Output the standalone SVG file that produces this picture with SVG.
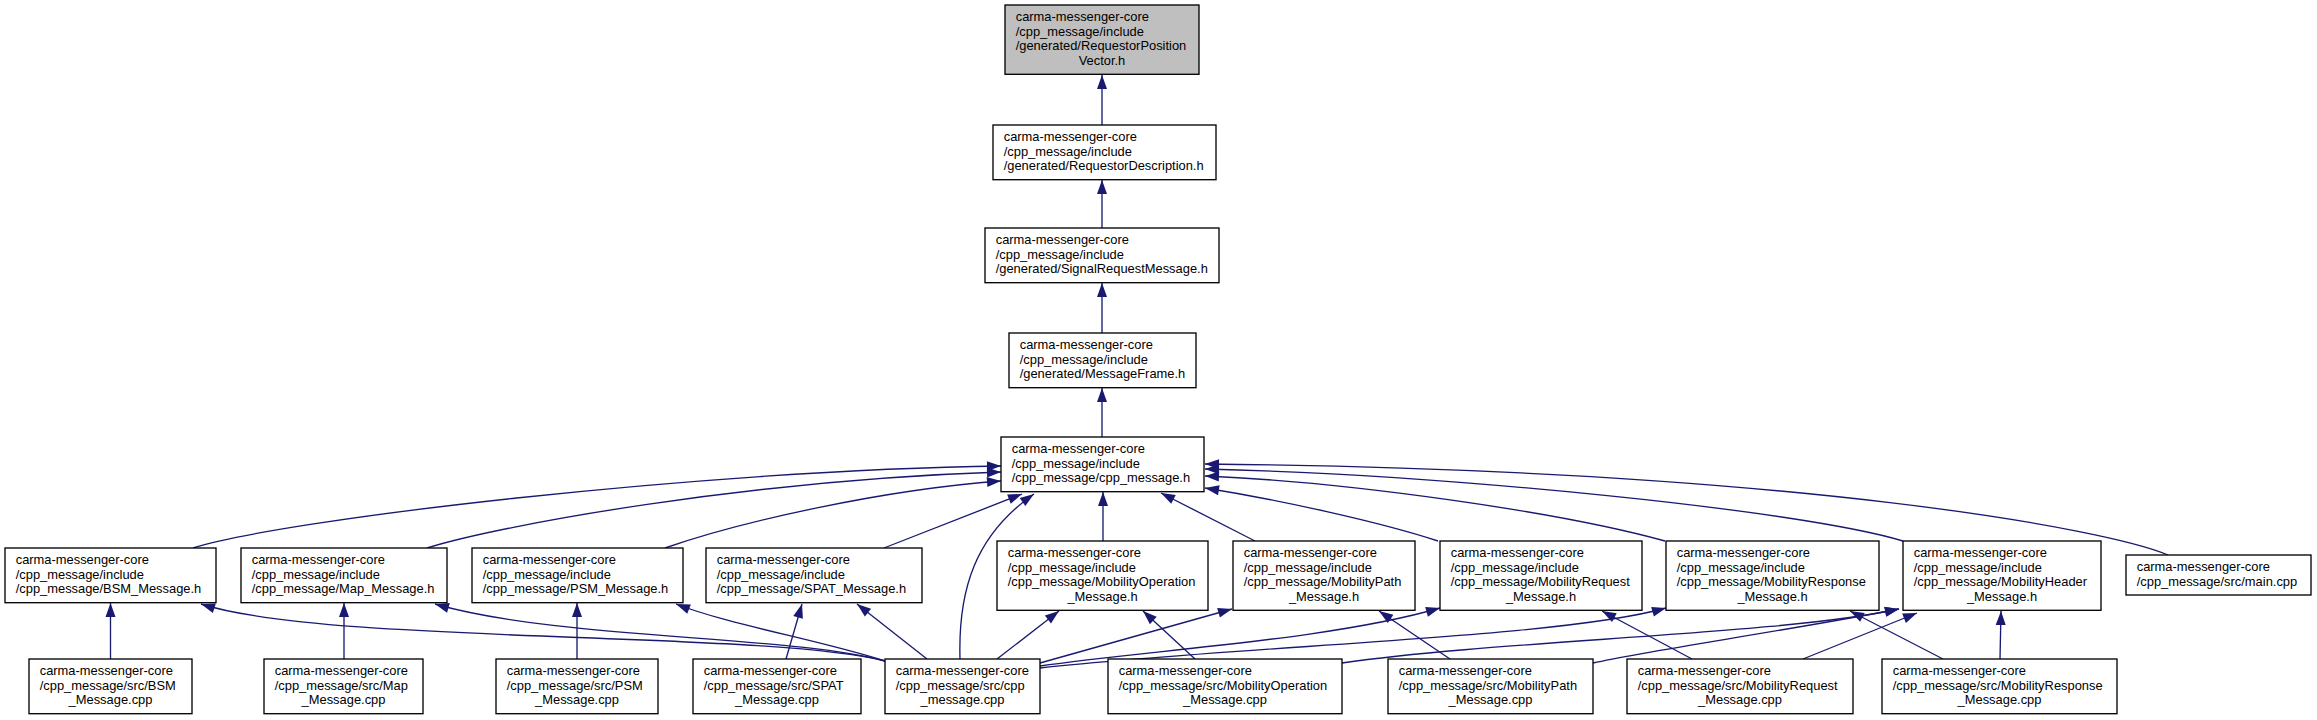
<svg xmlns="http://www.w3.org/2000/svg" width="2317" height="720" viewBox="0 0 2317 720">
<style>
.node rect{fill:#fff;stroke:#000;stroke-width:1.33}
.node text{font-family:"Liberation Sans",Arial,Helvetica,sans-serif;font-size:12.9px;fill:#000}
.node text.c{text-anchor:middle}
.edge{fill:none;stroke:#191970;stroke-width:1.33}
</style>
<defs>
<marker id="ah" markerUnits="userSpaceOnUse" viewBox="0 0 14 10" refX="14" refY="5" markerWidth="14" markerHeight="10" orient="auto" overflow="visible">
<path d="M0,0 L14,5 L0,10 Z" fill="#191970"/>
</marker>
</defs>
<rect width="2317" height="720" fill="#fff"/>
<g id="edges">
<path class="edge" marker-end="url(#ah)" d="M1102,125 L1102,75"/>
<path class="edge" marker-end="url(#ah)" d="M1102,228 L1102,180"/>
<path class="edge" marker-end="url(#ah)" d="M1102,333 L1102,283"/>
<path class="edge" marker-end="url(#ah)" d="M1102,437 L1102,388"/>
<path class="edge" marker-end="url(#ah)" d="M193,548 C280,520 700,470 1001,466"/>
<path class="edge" marker-end="url(#ah)" d="M427,548 C500,525 750,480 1001,472"/>
<path class="edge" marker-end="url(#ah)" d="M665,548 C740,522 880,490 1001,481"/>
<path class="edge" marker-end="url(#ah)" d="M884,548 L1022,494"/>
<path class="edge" marker-end="url(#ah)" d="M960,659 C958,590 975,535 1034,494"/>
<path class="edge" marker-end="url(#ah)" d="M1103,541 L1103,492"/>
<path class="edge" marker-end="url(#ah)" d="M1255,541 L1161,493"/>
<path class="edge" marker-end="url(#ah)" d="M1438,541 C1380,522 1280,500 1205,488"/>
<path class="edge" marker-end="url(#ah)" d="M1665,541 C1560,512 1350,482 1205,476"/>
<path class="edge" marker-end="url(#ah)" d="M1903,541 C1800,510 1450,475 1205,469"/>
<path class="edge" marker-end="url(#ah)" d="M2168,555 C2110,530 1800,470 1205,464"/>
<path class="edge" marker-end="url(#ah)" d="M110.5,659 L110.5,603"/>
<path class="edge" marker-end="url(#ah)" d="M344,659 L344,603"/>
<path class="edge" marker-end="url(#ah)" d="M577,659 L577,603"/>
<path class="edge" marker-end="url(#ah)" d="M786,659 L802,604"/>
<path class="edge" marker-end="url(#ah)" d="M885,661 C760,630 330,645 201,604"/>
<path class="edge" marker-end="url(#ah)" d="M885,661 C790,635 560,640 435,604"/>
<path class="edge" marker-end="url(#ah)" d="M885,661 C820,640 730,625 676,604"/>
<path class="edge" marker-end="url(#ah)" d="M927,659 L857,604"/>
<path class="edge" marker-end="url(#ah)" d="M997,659 L1059,611"/>
<path class="edge" marker-end="url(#ah)" d="M1195,659 L1143,611"/>
<path class="edge" marker-end="url(#ah)" d="M1040,663 L1232,609"/>
<path class="edge" marker-end="url(#ah)" d="M1450,659 L1379,611"/>
<path class="edge" marker-end="url(#ah)" d="M1040,666 C1150,650 1330,640 1440,608"/>
<path class="edge" marker-end="url(#ah)" d="M1692,659 L1602,611"/>
<path class="edge" marker-end="url(#ah)" d="M1040,668 C1250,645 1560,638 1666,608"/>
<path class="edge" marker-end="url(#ah)" d="M1943,659 L1850,611"/>
<path class="edge" marker-end="url(#ah)" d="M2000,659 L2001,611"/>
<path class="edge" marker-end="url(#ah)" d="M1803,659 L1917,613"/>
<path class="edge" marker-end="url(#ah)" d="M1593,663 C1650,650 1780,632 1899,609"/>
<path class="edge" marker-end="url(#ah)" d="M1342,663 C1500,640 1780,635 1899,609"/>
</g>
<g id="n1" class="node"><rect x="1005" y="5" width="194" height="69.3" style="fill:#bfbfbf"/>
<text x="1015.7" y="21">carma-messenger-core</text><text x="1015.7" y="35.7">/cpp_message/include</text><text x="1015.7" y="50.3">/generated/RequestorPosition</text><text class="c" x="1102" y="65">Vector.h</text></g>
<g id="n2" class="node"><rect x="993" y="125" width="223" height="54.7"/>
<text x="1003.7" y="141">carma-messenger-core</text><text x="1003.7" y="155.7">/cpp_message/include</text><text x="1003.7" y="170.3">/generated/RequestorDescription.h</text></g>
<g id="n3" class="node"><rect x="985" y="228" width="234" height="54.7"/>
<text x="995.7" y="244">carma-messenger-core</text><text x="995.7" y="258.7">/cpp_message/include</text><text x="995.7" y="273.3">/generated/SignalRequestMessage.h</text></g>
<g id="n4" class="node"><rect x="1009" y="333" width="187" height="54.7"/>
<text x="1019.7" y="349">carma-messenger-core</text><text x="1019.7" y="363.7">/cpp_message/include</text><text x="1019.7" y="378.3">/generated/MessageFrame.h</text></g>
<g id="n5" class="node"><rect x="1001" y="437" width="203" height="54.7"/>
<text x="1011.7" y="453">carma-messenger-core</text><text x="1011.7" y="467.7">/cpp_message/include</text><text x="1011.7" y="482.3">/cpp_message/cpp_message.h</text></g>
<g id="bsm_h" class="node"><rect x="5" y="548" width="211" height="54.7"/>
<text x="15.7" y="564">carma-messenger-core</text><text x="15.7" y="578.7">/cpp_message/include</text><text x="15.7" y="593.3">/cpp_message/BSM_Message.h</text></g>
<g id="map_h" class="node"><rect x="241" y="548" width="206" height="54.7"/>
<text x="251.7" y="564">carma-messenger-core</text><text x="251.7" y="578.7">/cpp_message/include</text><text x="251.7" y="593.3">/cpp_message/Map_Message.h</text></g>
<g id="psm_h" class="node"><rect x="472" y="548" width="211" height="54.7"/>
<text x="482.7" y="564">carma-messenger-core</text><text x="482.7" y="578.7">/cpp_message/include</text><text x="482.7" y="593.3">/cpp_message/PSM_Message.h</text></g>
<g id="spat_h" class="node"><rect x="706" y="548" width="216" height="54.7"/>
<text x="716.7" y="564">carma-messenger-core</text><text x="716.7" y="578.7">/cpp_message/include</text><text x="716.7" y="593.3">/cpp_message/SPAT_Message.h</text></g>
<g id="mobop_h" class="node"><rect x="997" y="541" width="211" height="69.3"/>
<text x="1007.7" y="557">carma-messenger-core</text><text x="1007.7" y="571.7">/cpp_message/include</text><text x="1007.7" y="586.3">/cpp_message/MobilityOperation</text><text class="c" x="1102.5" y="601">_Message.h</text></g>
<g id="mobpath_h" class="node"><rect x="1233" y="541" width="182" height="69.3"/>
<text x="1243.7" y="557">carma-messenger-core</text><text x="1243.7" y="571.7">/cpp_message/include</text><text x="1243.7" y="586.3">/cpp_message/MobilityPath</text><text class="c" x="1324" y="601">_Message.h</text></g>
<g id="mobreq_h" class="node"><rect x="1440" y="541" width="202" height="69.3"/>
<text x="1450.7" y="557">carma-messenger-core</text><text x="1450.7" y="571.7">/cpp_message/include</text><text x="1450.7" y="586.3">/cpp_message/MobilityRequest</text><text class="c" x="1541" y="601">_Message.h</text></g>
<g id="mobresp_h" class="node"><rect x="1666" y="541" width="213" height="69.3"/>
<text x="1676.7" y="557">carma-messenger-core</text><text x="1676.7" y="571.7">/cpp_message/include</text><text x="1676.7" y="586.3">/cpp_message/MobilityResponse</text><text class="c" x="1772.5" y="601">_Message.h</text></g>
<g id="mobhdr_h" class="node"><rect x="1903" y="541" width="198" height="69.3"/>
<text x="1913.7" y="557">carma-messenger-core</text><text x="1913.7" y="571.7">/cpp_message/include</text><text x="1913.7" y="586.3">/cpp_message/MobilityHeader</text><text class="c" x="2002" y="601">_Message.h</text></g>
<g id="main_cpp" class="node"><rect x="2126" y="555" width="185" height="40"/>
<text x="2136.7" y="571">carma-messenger-core</text><text x="2136.7" y="585.7">/cpp_message/src/main.cpp</text></g>
<g id="bsm_cpp" class="node"><rect x="29" y="659" width="163" height="54.7"/>
<text x="39.7" y="675">carma-messenger-core</text><text x="39.7" y="689.7">/cpp_message/src/BSM</text><text class="c" x="110.5" y="704.3">_Message.cpp</text></g>
<g id="map_cpp" class="node"><rect x="264" y="659" width="159" height="54.7"/>
<text x="274.7" y="675">carma-messenger-core</text><text x="274.7" y="689.7">/cpp_message/src/Map</text><text class="c" x="343.5" y="704.3">_Message.cpp</text></g>
<g id="psm_cpp" class="node"><rect x="496" y="659" width="162" height="54.7"/>
<text x="506.7" y="675">carma-messenger-core</text><text x="506.7" y="689.7">/cpp_message/src/PSM</text><text class="c" x="577" y="704.3">_Message.cpp</text></g>
<g id="spat_cpp" class="node"><rect x="693" y="659" width="168" height="54.7"/>
<text x="703.7" y="675">carma-messenger-core</text><text x="703.7" y="689.7">/cpp_message/src/SPAT</text><text class="c" x="777" y="704.3">_Message.cpp</text></g>
<g id="cpp_cpp" class="node"><rect x="885" y="659" width="155" height="54.7"/>
<text x="895.7" y="675">carma-messenger-core</text><text x="895.7" y="689.7">/cpp_message/src/cpp</text><text class="c" x="962.5" y="704.3">_message.cpp</text></g>
<g id="mobop_cpp" class="node"><rect x="1108" y="659" width="234" height="54.7"/>
<text x="1118.7" y="675">carma-messenger-core</text><text x="1118.7" y="689.7">/cpp_message/src/MobilityOperation</text><text class="c" x="1225" y="704.3">_Message.cpp</text></g>
<g id="mobpath_cpp" class="node"><rect x="1388" y="659" width="205" height="54.7"/>
<text x="1398.7" y="675">carma-messenger-core</text><text x="1398.7" y="689.7">/cpp_message/src/MobilityPath</text><text class="c" x="1490.5" y="704.3">_Message.cpp</text></g>
<g id="mobreq_cpp" class="node"><rect x="1627" y="659" width="226" height="54.7"/>
<text x="1637.7" y="675">carma-messenger-core</text><text x="1637.7" y="689.7">/cpp_message/src/MobilityRequest</text><text class="c" x="1740" y="704.3">_Message.cpp</text></g>
<g id="mobresp_cpp" class="node"><rect x="1882" y="659" width="235" height="54.7"/>
<text x="1892.7" y="675">carma-messenger-core</text><text x="1892.7" y="689.7">/cpp_message/src/MobilityResponse</text><text class="c" x="1999.5" y="704.3">_Message.cpp</text></g>
</svg>
